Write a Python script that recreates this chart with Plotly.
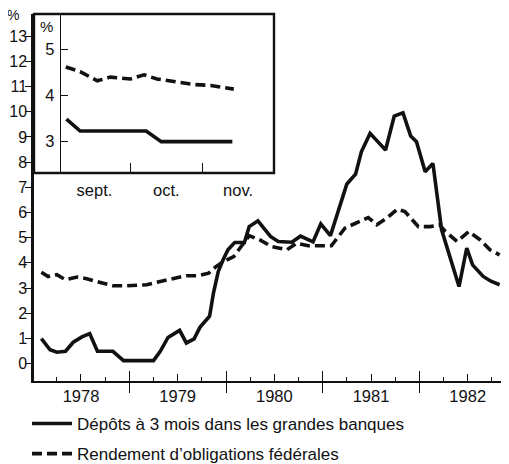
import plotly.graph_objects as go

# ---------------- data ----------------
# Main chart: decimal years
solid_x = [1978.09, 1978.18, 1978.25, 1978.34, 1978.42, 1978.51, 1978.59, 1978.67, 1978.83, 1978.94,
           1979.25, 1979.32, 1979.40, 1979.52, 1979.59, 1979.67, 1979.73, 1979.83, 1979.87, 1979.92,
           1979.97, 1980.02, 1980.09, 1980.19, 1980.24, 1980.33, 1980.46, 1980.54, 1980.68, 1980.77,
           1980.90, 1980.98, 1981.08, 1981.17, 1981.25, 1981.34, 1981.40, 1981.49, 1981.65, 1981.74,
           1981.83, 1981.91, 1981.97, 1982.06, 1982.14, 1982.23, 1982.33, 1982.41, 1982.49, 1982.55,
           1982.66, 1982.74, 1982.83]
solid_y = [0.99, 0.55, 0.45, 0.49, 0.85, 1.06, 1.19, 0.49, 0.49, 0.12,
           0.12, 0.49, 1.04, 1.32, 0.82, 0.98, 1.44, 1.88, 2.80, 3.66,
           4.12, 4.52, 4.81, 4.81, 5.44, 5.67, 5.05, 4.85, 4.82, 5.06,
           4.83, 5.55, 5.08, 6.17, 7.13, 7.52, 8.41, 9.14, 8.48, 9.83,
           9.96, 9.04, 8.81, 7.62, 7.95, 5.31, 4.12, 3.06, 4.59, 3.92,
           3.46, 3.27, 3.13]

dash_x = [1978.09, 1978.16, 1978.25, 1978.34, 1978.46, 1978.56, 1978.70, 1978.83, 1978.97, 1979.18,
          1979.32, 1979.46, 1979.59, 1979.71, 1979.82, 1979.89, 1979.96, 1980.08, 1980.14, 1980.24,
          1980.35, 1980.47, 1980.63, 1980.73, 1980.85, 1981.09, 1981.23, 1981.39, 1981.47, 1981.56,
          1981.66, 1981.77, 1981.85, 1981.99, 1982.11, 1982.21, 1982.26, 1982.39, 1982.51, 1982.63,
          1982.73, 1982.83]
dash_y = [3.63, 3.46, 3.53, 3.33, 3.44, 3.37, 3.22, 3.09, 3.09, 3.13,
          3.26, 3.37, 3.49, 3.49, 3.59, 3.83, 4.02, 4.25, 4.55, 5.08,
          4.91, 4.65, 4.52, 4.78, 4.68, 4.68, 5.38, 5.64, 5.80, 5.51,
          5.77, 6.13, 6.04, 5.44, 5.44, 5.51, 5.28, 4.85, 5.24, 4.91,
          4.52, 4.32]

# Inset: months since start of September
inset_solid_x = [0.11, 0.30, 1.22, 1.43, 2.42]
inset_solid_y = [3.49, 3.23, 3.23, 3.00, 3.00]
inset_dash_x = [0.10, 0.30, 0.54, 0.72, 1.00, 1.19, 1.37, 1.60, 1.88, 2.12, 2.44]
inset_dash_y = [4.62, 4.52, 4.32, 4.40, 4.36, 4.45, 4.36, 4.31, 4.24, 4.22, 4.14]

year_vals = [1978.5, 1979.5, 1980.5, 1981.5, 1982.5]
year_labels = ["1978", "1979", "1980", "1981", "1982"]
year_bounds = [1979, 1980, 1981, 1982]
quarter_vals = [1978.25, 1978.75, 1979.25, 1979.75, 1980.25, 1980.75,
                1981.25, 1981.75, 1982.25, 1982.75]
month_vals = [0.5, 1.5, 2.5]
month_labels = ["sept.", "oct.", "nov."]
month_bounds = [1, 2]

name_solid = "Dépôts à 3 mois dans les grandes banques"
name_dash = "Rendement d’obligations fédérales"

FONT = "Liberation Sans, Arial, sans-serif"
INK = "#111111"
LW = 3.6
DASH = "10px,5px"

# the page body has an 8px margin, so the figure is laid out 8px smaller
OFF = 8
W, H = 509 - OFF, 464 - OFF
PLOT_L, PLOT_T, PLOT_B = 34, 14, 381          # reference-screen pixels
L, R, T, B = PLOT_L - OFF, 0, PLOT_T - OFF, H - (PLOT_B - OFF)
pw, ph = W - L - R, H - T - B


def px_x(x):  # reference screen x -> paper
    return (x - OFF - L) / pw


def px_y(y):  # reference screen y -> paper
    return (H - B - (y - OFF)) / ph


fig = go.Figure()

fig.add_trace(go.Scatter(x=solid_x, y=solid_y, mode="lines", name=name_solid,
                         line=dict(color=INK, width=LW), xaxis="x", yaxis="y",
                         legendgroup="a"))
fig.add_trace(go.Scatter(x=dash_x, y=dash_y, mode="lines", name=name_dash,
                         line=dict(color=INK, width=LW, dash=DASH), xaxis="x2", yaxis="y",
                         legendgroup="b"))
fig.add_trace(go.Scatter(x=inset_solid_x, y=inset_solid_y, mode="lines", showlegend=False,
                         line=dict(color=INK, width=LW), xaxis="x3", yaxis="y3"))
fig.add_trace(go.Scatter(x=inset_dash_x, y=inset_dash_y, mode="lines", showlegend=False,
                         line=dict(color=INK, width=LW, dash=DASH), xaxis="x3", yaxis="y3"))

xr = [1978.014, 1982.927]
inset_x0, inset_x1 = px_x(60.7), px_x(274)
inset_y0 = px_y(173)

fig.update_layout(
    template="none",
    width=W, height=H,
    margin=dict(l=L, r=R, t=T, b=B, pad=0, autoexpand=False),
    paper_bgcolor="white", plot_bgcolor="white",
    font=dict(family=FONT, size=16, color=INK),
    xaxis=dict(range=xr, domain=[0, 1], anchor="y", showline=True, linewidth=2.2, linecolor=INK,
               showgrid=False, zeroline=False, automargin=False,
               tickmode="array", tickvals=year_bounds, ticktext=["", "", "", ""],
               ticks="outside", ticklen=10, tickwidth=1.3, tickcolor=INK,
               minor=dict(tickmode="array", tickvals=quarter_vals, ticks="inside",
                          ticklen=4, tickwidth=1.3, tickcolor=INK)),
    xaxis2=dict(range=xr, overlaying="x", anchor="y", side="bottom", showline=False,
                showgrid=False, zeroline=False, automargin=False,
                tickmode="array", tickvals=year_vals, ticktext=year_labels,
                ticks="inside", ticklen=7, tickwidth=1.3, tickcolor=INK,
                tickfont=dict(size=16.5), ticklabelstandoff=3,
                minor=dict(tickmode="array", tickvals=year_bounds, ticks="inside",
                           ticklen=10, tickwidth=1.3, tickcolor=INK)),
    yaxis=dict(range=[-0.69, 13.88], domain=[0, 1], anchor="x", showline=True, linewidth=2.5,
               linecolor=INK, showgrid=False, zeroline=False, automargin=False,
               tickmode="array", tickvals=list(range(0, 14)),
               ticks="outside", ticklen=6, tickwidth=1.3, tickcolor=INK,
               tickfont=dict(size=16), ticklabelstandoff=-5),
    xaxis3=dict(range=[0.03, 3.0], domain=[inset_x0, inset_x1], anchor="y3", showline=False,
                showgrid=False, zeroline=False, automargin=False,
                tickmode="array", tickvals=month_vals, ticktext=month_labels, ticks="",
                tickfont=dict(size=16.5), ticklabelstandoff=5,
                minor=dict(tickmode="array", tickvals=month_bounds, ticks="inside",
                           ticklen=10, tickwidth=1.3, tickcolor=INK)),
    yaxis3=dict(range=[2.32, 5.77], domain=[inset_y0, 1.0], anchor="x3", showline=True,
                linewidth=1, linecolor=INK, showgrid=False, zeroline=False, automargin=False,
                tickmode="array", tickvals=[3, 4, 5],
                ticks="inside", ticklen=7, tickwidth=1.3, tickcolor=INK,
                tickfont=dict(size=16.5), ticklabelstandoff=2),
    showlegend=True,
    legend=dict(orientation="v", xref="container", yref="container",
                x=(27 - OFF) / W, y=(H - (406 - OFF)) / H, xanchor="left", yanchor="top",
                font=dict(size=17), itemwidth=40, tracegroupgap=5,
                bgcolor="rgba(0,0,0,0)", borderwidth=0),
    shapes=[dict(type="rect", xref="paper", yref="paper", x0=0, x1=inset_x1,
                 y0=inset_y0, y1=1.0, line=dict(color=INK, width=2.4),
                 fillcolor="rgba(0,0,0,0)", layer="above")],
    annotations=[
        dict(text="%", xref="paper", yref="paper", x=px_x(13), y=px_y(15),
             showarrow=False, font=dict(size=14), xanchor="center", yanchor="middle",
             borderpad=0),
        dict(text="%", xref="paper", yref="paper", x=px_x(46.5), y=px_y(26),
             showarrow=False, font=dict(size=15), xanchor="center", yanchor="middle"),
    ],
)

fig.write_html("out.html")
